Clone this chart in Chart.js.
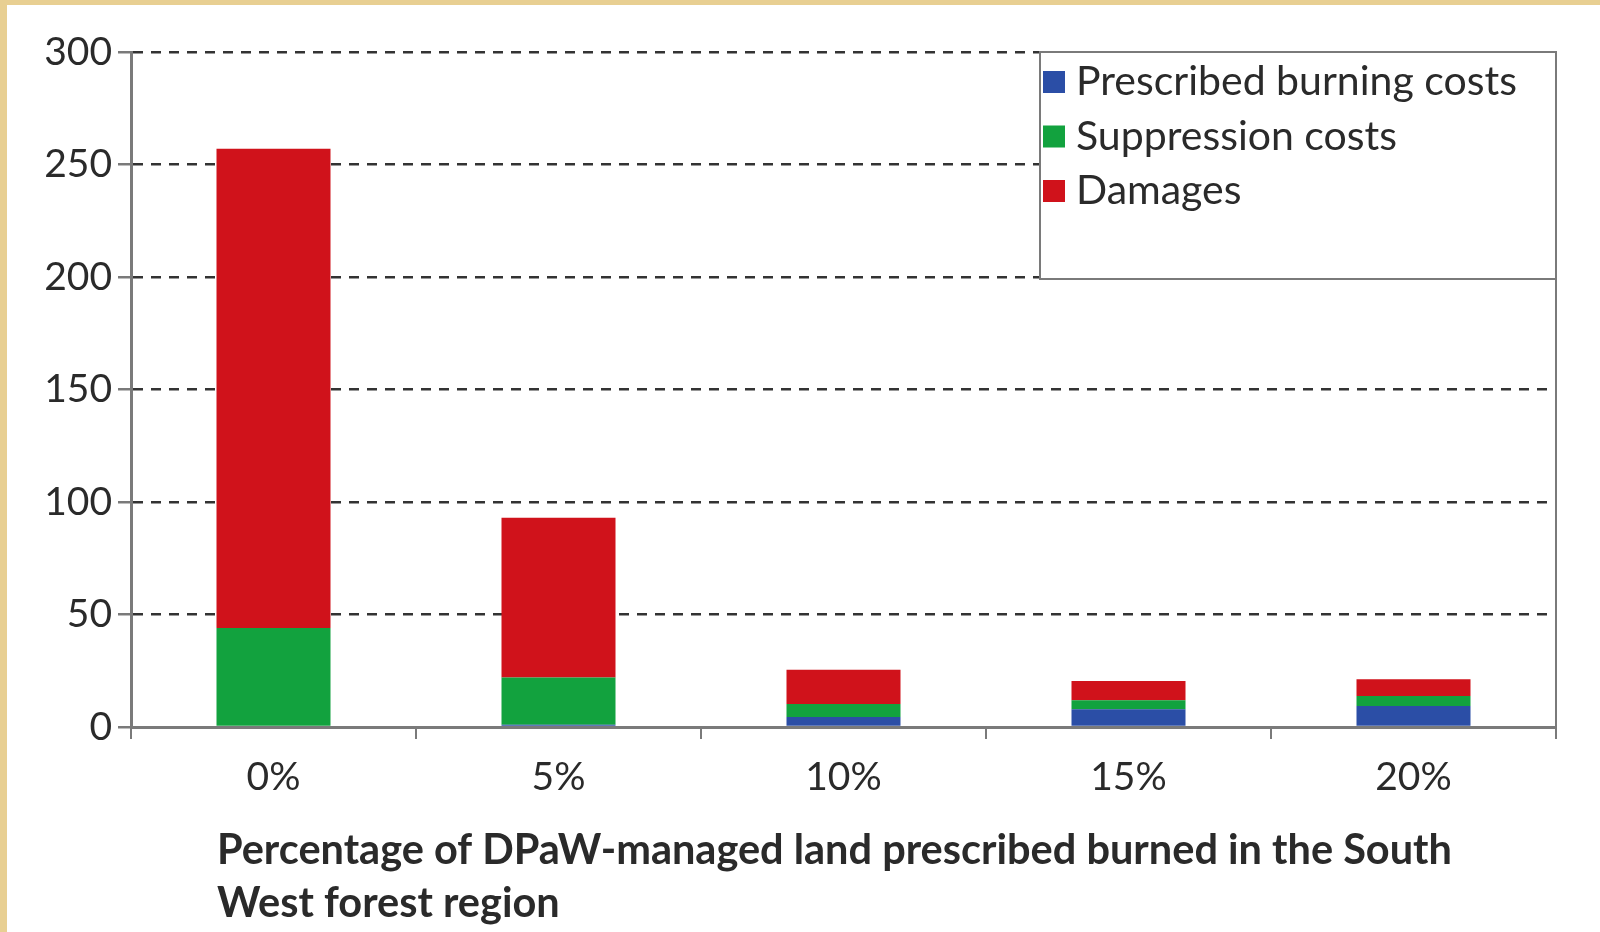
<!DOCTYPE html>
<html>
<head>
<meta charset="utf-8">
<title>Costs and damages by prescribed burning level</title>
<script src="https://cdn.jsdelivr.net/npm/chart.js@4.4.1/dist/chart.umd.min.js"></script>
<style>
  html, body { margin: 0; padding: 0; }
  body { width: 1600px; height: 932px; background: #e8cf92; position: relative; overflow: hidden; }
  .frame { position: absolute; left: 7px; top: 5px; right: 0; bottom: 0; background: #fff; }
  #costChart { position: absolute; left: 0; top: 0; }
</style>
</head>
<body>
<div class="frame"></div>
<canvas id="costChart" width="1600" height="932"></canvas>
<script>
// values (stacked, bottom to top)
var categories = ['0%', '5%', '10%', '15%', '20%'];
var burningCosts = [0, 1, 4.4, 7.9, 9.3];
var suppressionCosts = [44, 21, 5.8, 4, 4.5];
var damages = [213, 71, 15.2, 8.6, 7.4];
var yTicks = [0, 50, 100, 150, 200, 250, 300];
var seriesNames = ['Prescribed burning costs', 'Suppression costs', 'Damages'];
var seriesColors = ['#2b4ea6', '#12a23e', '#d0121b'];
var xTitleLines = ['Percentage of DPaW-managed land prescribed burned in the South', 'West forest region'];

var textColor = '#2a2a2a';
var axisColor = '#7a7a7a';

// legend box sitting in the top right corner of the plot
var boxLegend = {
    id: 'boxLegend',
    afterDraw: function (chart, args, opts) {
        var ctx = chart.ctx;
        var area = chart.chartArea;
        var x = area.right - opts.width;
        var y = area.top;
        ctx.save();
        ctx.fillStyle = '#ffffff';
        ctx.fillRect(x, y, opts.width, opts.height);
        ctx.strokeStyle = axisColor;
        ctx.lineWidth = 2;
        ctx.strokeRect(x, y, opts.width, opts.height);
        ctx.font = opts.font;
        ctx.textBaseline = 'middle';
        ctx.textAlign = 'left';
        chart.data.datasets.forEach(function (ds, i) {
            var cy = y + opts.firstRow + i * opts.rowGap;
            ctx.fillStyle = ds.backgroundColor;
            ctx.fillRect(x + 3, cy - 11, 22, 22);
            ctx.fillStyle = textColor;
            ctx.fillText(ds.label, x + 36, cy);
        });
        ctx.restore();
    }
};

// two-line, left aligned axis title under the category labels
var leftTitle = {
    id: 'leftTitle',
    afterDraw: function (chart, args, opts) {
        var ctx = chart.ctx;
        var area = chart.chartArea;
        ctx.save();
        ctx.font = opts.font;
        ctx.fillStyle = textColor;
        ctx.textAlign = 'left';
        ctx.textBaseline = 'middle';
        opts.lines.forEach(function (line, i) {
            ctx.fillText(line, area.left + opts.indent, area.bottom + opts.firstLine + i * opts.lineGap);
        });
        ctx.restore();
    }
};

var costChart = new Chart(document.getElementById('costChart'), {
    type: 'bar',
    data: {
        labels: categories,
        datasets: [{
            label: seriesNames[0],
            data: burningCosts,
            backgroundColor: seriesColors[0]
        }, {
            label: seriesNames[1],
            data: suppressionCosts,
            backgroundColor: seriesColors[1]
        }, {
            label: seriesNames[2],
            data: damages,
            backgroundColor: seriesColors[2]
        }]
    },
    options: {
        responsive: false,
        animation: false,
        datasets: {
            bar: { categoryPercentage: 1.0, barPercentage: 0.4 }
        },
        layout: {
            padding: { left: 7, right: 44, top: 52, bottom: 0 }
        },
        plugins: {
            legend: { display: false },
            tooltip: { enabled: false },
            boxLegend: {
                width: 516,
                height: 227,
                firstRow: 30,
                rowGap: 54.5,
                font: '41px Lato'
            },
            leftTitle: {
                lines: xTitleLines,
                indent: 86,
                firstLine: 124,
                lineGap: 53,
                font: 'bold 41.5px Lato'
            }
        },
        scales: {
            x: {
                stacked: true,
                afterFit: function (scale) { scale.height = 205; },
                grid: {
                    offset: true,
                    drawOnChartArea: false,
                    drawTicks: true,
                    tickLength: 12,
                    tickColor: axisColor,
                    lineWidth: 2
                },
                border: { color: axisColor, width: 3 },
                ticks: {
                    color: textColor,
                    padding: 15,
                    font: { family: 'Lato', size: 39 }
                }
            },
            y: {
                stacked: true,
                min: 0,
                max: 300,
                afterFit: function (scale) { scale.width = 124; },
                afterBuildTicks: function (scale) {
                    scale.ticks = yTicks.map(function (v) { return { value: v }; });
                },
                grid: {
                    color: '#333333',
                    lineWidth: 2.5,
                    tickLength: 13,
                    tickColor: axisColor,
                    tickBorderDash: []
                },
                border: { color: axisColor, width: 3, dash: [10, 8] },
                ticks: {
                    color: textColor,
                    padding: 6,
                    font: { family: 'Lato', size: 39 }
                }
            },
            y2: {
                position: 'right',
                min: 0,
                max: 300,
                afterFit: function (scale) { scale.width = 0; },
                grid: { display: false },
                border: { display: true, color: axisColor, width: 2 },
                ticks: { display: false }
            }
        }
    },
    plugins: [boxLegend, leftTitle]
});
</script>
</body>
</html>
